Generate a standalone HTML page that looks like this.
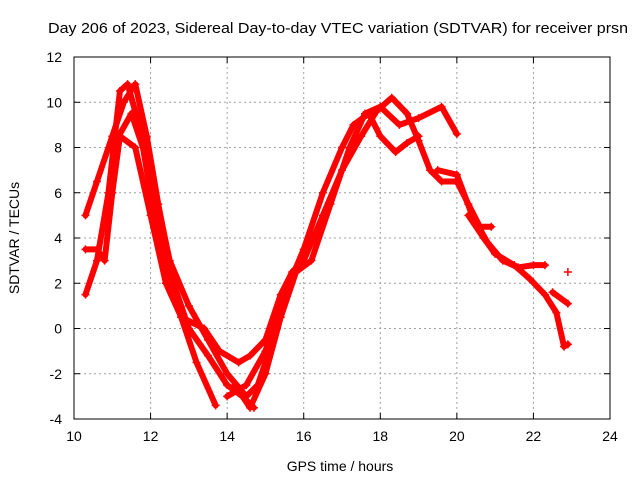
<!DOCTYPE html>
<html><head><meta charset="utf-8"><style>
body{margin:0;background:#fff;}
svg{display:block;font-family:"Liberation Sans",sans-serif;}
</style></head><body>
<svg id="c" width="640" height="480"></svg>
<script>
const xTicks=[10,12,14,16,18,20,22,24];
const yTicks=[-4,-2,0,2,4,6,8,10,12];
const s1=[[10.3,1.5],[10.6,3],[10.9,6],[11.2,10.5],[11.4,10.8],[11.7,9],[12,6],[12.4,3],[12.8,0.5],[13.2,-1.5],[13.7,-3.4]];
const s2=[[10.3,5],[10.6,6.5],[11,8.5],[11.3,10],[11.6,10.8],[11.9,8.5],[12.2,5.5],[12.6,2],[13,0],[13.5,-1.2],[14,-2.5],[14.4,-3],[14.7,-3.5]];
const s3=[[10.3,3.5],[10.6,3.5],[10.8,3],[11,6],[11.2,8.5],[11.6,8],[12,5],[12.4,2],[12.8,0.5],[13.4,0],[13.8,-1],[14.3,-1.5],[14.6,-1.2],[15,-0.5],[15.4,1.5],[15.7,2.5],[16,3]];
const s4=[[11,8],[11.5,9.5],[12,7],[12.5,3],[13,1],[13.5,-0.5],[14,-2],[14.5,-3],[14.8,-2.5],[15.3,0],[15.6,2],[16,3],[16.5,5],[17,7],[17.5,8.5],[17.9,9.6],[18.3,10.2],[18.7,9.5],[19,8.3],[19.3,7],[19.6,6.5],[20,6.5],[20.3,5.5],[20.6,4.5],[20.9,4.5]];
const s5=[[14,-3],[14.5,-2.5],[15,-1],[15.5,1.5],[16,3.5],[16.5,6],[17,8],[17.3,9],[17.7,9.5],[18,8.5],[18.4,7.8],[18.7,8.2],[19,8.5]];
const s6=[[14.2,-2.5],[14.6,-3.5],[15,-2],[15.4,0.5],[15.8,2.5],[16.2,3],[16.7,5.5],[17.2,8],[17.6,9.5],[18,9.8],[18.5,9],[19,9.3],[19.6,9.8],[20,8.6]];
const s7=[[19.5,7],[20,6.8],[20.4,5],[20.8,3.8],[21.2,3],[21.6,2.7],[22,2.8],[22.3,2.8]];
const s8=[[20.3,5],[20.7,4],[21,3.3],[21.5,2.8],[21.9,2.2],[22.3,1.5],[22.6,0.7],[22.8,-0.8],[22.9,-0.7]];
const s9=[[22.5,1.6],[22.9,1.1]];
const s10=[[22.9,2.5]];
const series=[s1,s2,s3,s4,s5,s6,s7,s8,s9,s10];
const L=74,R=610,T=57,B=419;
const X=v=>L+(v-10)/14*(R-L), Y=v=>B-(v+4)/16*(B-T);
const svg=document.getElementById('c');const NS='http://www.w3.org/2000/svg';
function mk(t,a,p){const e=document.createElementNS(NS,t);for(const k in a)e.setAttribute(k,a[k]);(p||svg).appendChild(e);return e;}
const title=mk('text',{x:48,y:33,'font-size':15,textLength:580,lengthAdjust:'spacingAndGlyphs'});title.textContent='Day 206 of 2023, Sidereal Day-to-day VTEC variation (SDTVAR) for receiver prsn';


xTicks.forEach(v=>{const x=X(v);
 if(v>10&&v<24){const g=mk('line',{x1:x,x2:x,y1:T,y2:B,stroke:'#a0a0a0','stroke-dasharray':'2,3'});}
 mk('line',{x1:x,x2:x,y1:B,y2:B-6,stroke:'#000'});mk('line',{x1:x,x2:x,y1:T,y2:T+6,stroke:'#000'});
 const t=mk('text',{x:x,y:B+22,'text-anchor':'middle','font-size':14});t.textContent=v;
 });
yTicks.forEach(v=>{const y=Y(v);
 if(v>-4&&v<12){const g=mk('line',{x1:L,x2:R,y1:y,y2:y,stroke:'#a0a0a0','stroke-dasharray':'2,3'});}
 mk('line',{x1:L,x2:L+6,y1:y,y2:y,stroke:'#000'});mk('line',{x1:R,x2:R-6,y1:y,y2:y,stroke:'#000'});
 const t=mk('text',{x:L-12,y:y+5,'text-anchor':'end','font-size':14});t.textContent=v;
 });
const fr=mk('rect',{x:L,y:T,width:R-L,height:B-T,fill:'none',stroke:'#000'});

const xl=mk('text',{x:340,y:471,'text-anchor':'middle','font-size':14});xl.textContent='GPS time / hours';

const yl=mk('text',{x:19,y:238,'text-anchor':'middle','font-size':14,transform:'rotate(-90 19 238)'});yl.textContent='SDTVAR / TECUs';

series.forEach((s,i)=>{const g=mk('g',{});
 
 if(s.length>1)mk('polyline',{points:s.map(p=>X(p[0])+','+Y(p[1])).join(' '),fill:'none',stroke:'#f00','stroke-width':6,'stroke-linejoin':'round','stroke-linecap':'round'},g);
 s.forEach(p=>{const x=X(p[0]),y=Y(p[1]);mk('path',{d:`M${x-4},${y}H${x+4}M${x},${y-4}V${y+4}`,stroke:'#f00','stroke-width':1.5},g);});
});
</script>
</body></html>
